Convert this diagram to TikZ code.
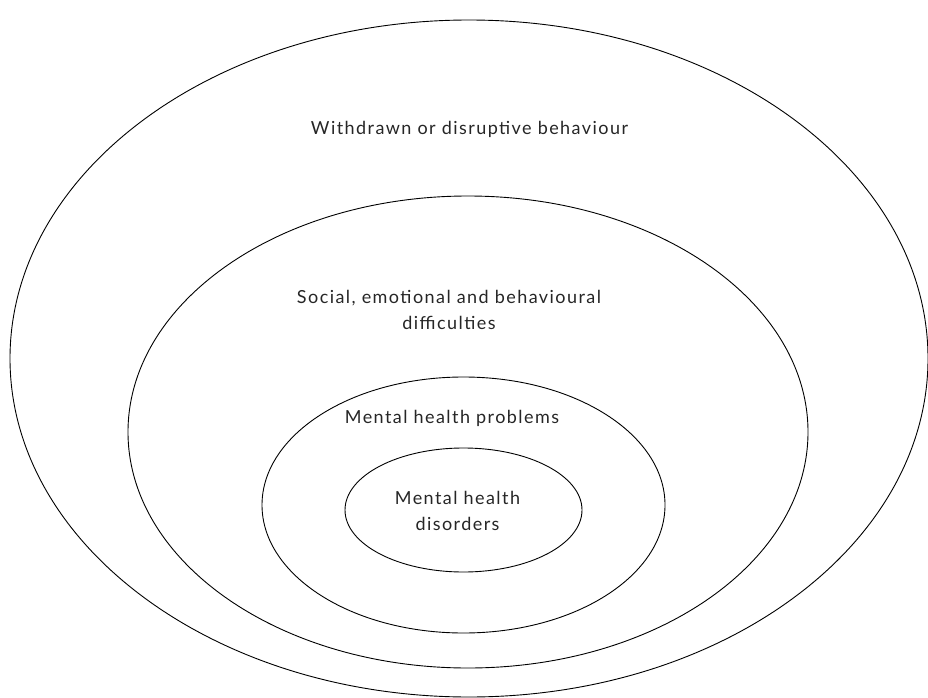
\documentclass[tikz,border=0pt]{standalone}
\usepackage{fontspec}
\setmainfont{Lato}[LetterSpace=8]
\begin{document}
\begin{tikzpicture}[x=1pt,y=-1pt,
  ring/.style={draw=black,line width=0.9pt},
  lbl/.style={font=\fontsize{18}{26}\selectfont,align=center,inner sep=0pt,text=black!85}]
\useasboundingbox (0,0) rectangle (928,698);
\draw[ring] (469,358.5) ellipse [x radius=459,y radius=338.5];
\draw[ring] (468,432) ellipse [x radius=340,y radius=236];
\draw[ring] (463.5,505) ellipse [x radius=201.5,y radius=128];
\draw[ring] (463.5,510) ellipse [x radius=118.5,y radius=62];
\node[lbl] (outer) at (469.5,129) {Withdrawn or disruptive behaviour};
\node[lbl] (social) at (449,310) {Social, emotional and behavioural\\difficulties};
\node[lbl] (problems) at (452,418) {Mental health problems};
\node[lbl] (disorders) at (457.5,511) {Mental health\\disorders};
\end{tikzpicture}
\end{document}
